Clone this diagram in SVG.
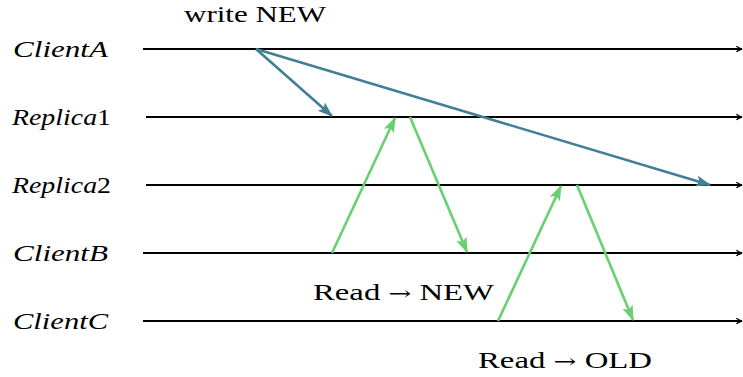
<svg xmlns="http://www.w3.org/2000/svg" width="743" height="377" viewBox="0 0 743 377">
  <style>
    .time { stroke: #000; stroke-width: 1.8; fill: none; marker-end: url(#tip); }
    .write { stroke: #417f96; stroke-width: 2.6; fill: none; marker-end: url(#headBlue); }
    .read { stroke: #66d16e; stroke-width: 2.6; fill: none; }
    .read.arr { marker-end: url(#headGreen); }
    .lbl { font-family: "Liberation Serif", "DejaVu Serif", serif; font-style: italic; font-size: 24px; fill: #000; }
    .up { font-style: normal; }
    .txt { font-family: "Liberation Serif", "DejaVu Serif", serif; font-size: 24px; fill: #000; }
    .sym { font-family: "DejaVu Serif", serif; font-size: 20px; }
  </style>
  <defs>
    <marker id="tip" viewBox="0 0 10 10" refX="9" refY="5" markerWidth="7" markerHeight="8" markerUnits="userSpaceOnUse" orient="auto">
      <path d="M1,1 Q5,4 9,5 Q5,6 1,9" fill="none" stroke="#000" stroke-width="2"/>
    </marker>
    <marker id="headBlue" viewBox="0 0 14 10" refX="13" refY="5" markerWidth="16" markerHeight="11" markerUnits="userSpaceOnUse" orient="auto">
      <path d="M0,0 L14,5 L0,10 L3,5 Z" fill="#417f96"/>
    </marker>
    <marker id="headGreen" viewBox="0 0 14 10" refX="13" refY="5" markerWidth="16" markerHeight="11" markerUnits="userSpaceOnUse" orient="auto">
      <path d="M0,0 L14,5 L0,10 L3,5 Z" fill="#66d16e"/>
    </marker>
  </defs>

  <g id="clientA">
    <text class="lbl" x="13" y="57" textLength="95" lengthAdjust="spacingAndGlyphs">ClientA</text>
  </g>
  <g id="replica1">
    <text class="lbl" x="12" y="125" textLength="99" lengthAdjust="spacingAndGlyphs">Replica<tspan class="up">1</tspan></text>
  </g>
  <g id="replica2">
    <text class="lbl" x="12" y="193" textLength="99" lengthAdjust="spacingAndGlyphs">Replica<tspan class="up">2</tspan></text>
  </g>
  <g id="clientB">
    <text class="lbl" x="13" y="261" textLength="95" lengthAdjust="spacingAndGlyphs">ClientB</text>
  </g>
  <g id="clientC">
    <text class="lbl" x="13" y="329" textLength="95" lengthAdjust="spacingAndGlyphs">ClientC</text>
  </g>
  <g id="labels">
    <text class="txt" x="184" y="22" textLength="142" lengthAdjust="spacingAndGlyphs">write NEW</text>
    <text class="txt" x="313" y="300" textLength="181" lengthAdjust="spacingAndGlyphs">Read <tspan class="sym">→</tspan> NEW</text>
    <text class="txt" x="478" y="368" textLength="174" lengthAdjust="spacingAndGlyphs">Read <tspan class="sym">→</tspan> OLD</text>
  </g>

  <g id="connectors">
    <!-- timelines -->
    <line class="time" x1="143" y1="49" x2="742" y2="49"/>
    <line class="time" x1="146" y1="117" x2="742" y2="117"/>
    <line class="time" x1="146" y1="185" x2="742" y2="185"/>
    <line class="time" x1="143" y1="253" x2="742" y2="253"/>
    <line class="time" x1="143" y1="321" x2="742" y2="321"/>
    <!-- write propagation -->
    <line class="write" x1="256" y1="49" x2="332" y2="116"/>
    <line class="write" x1="256" y1="49" x2="710" y2="185"/>
    <!-- reads -->
    <line class="read arr" x1="332" y1="253" x2="395" y2="118"/>
    <line class="read arr" x1="410" y1="117" x2="467" y2="252"/>
    <line class="read arr" x1="498" y1="321" x2="561" y2="186"/>
    <line class="read arr" x1="577" y1="185" x2="633" y2="320"/>
  </g>
</svg>
